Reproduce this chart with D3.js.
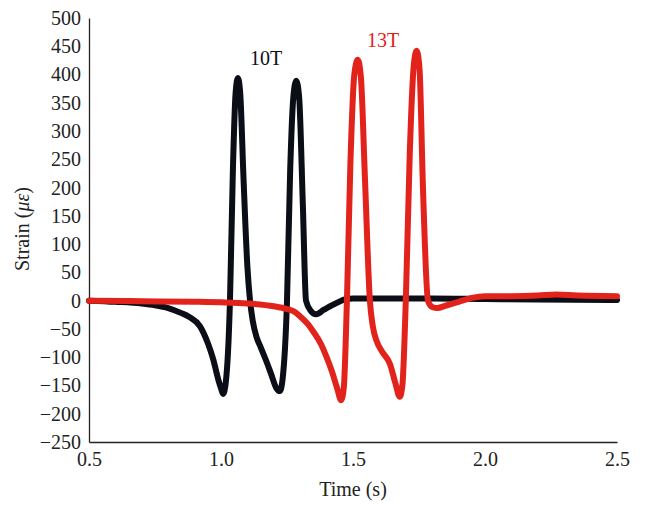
<!DOCTYPE html>
<html><head><meta charset="utf-8">
<script src="https://cdn.jsdelivr.net/npm/d3@7"></script>
<style>body{margin:0;background:#fff}svg text{font-family:"Liberation Serif","DejaVu Serif",serif}</style>
</head><body><svg id="c" width="645" height="505"></svg>
<script>
const xTicks = [0.5, 1.0, 1.5, 2.0, 2.5];
const yTicks = [500,450,400,350,300,250,200,150,100,50,0,-50,-100,-150,-200,-250];
const seriesNames = ["10T", "13T"];
const seriesColors = ["#0b0e16", "#e2231c"];
const t10 = [0.50,0.60,0.70,0.75,0.80,0.85,0.88,0.92,0.95,0.97,0.99,1.00,1.008,1.018,1.034,1.045,1.055,1.064,1.073,1.085,1.10,1.11,1.12,1.135,1.15,1.17,1.19,1.21,1.223,1.233,1.25,1.262,1.274,1.285,1.296,1.31,1.322,1.34,1.36,1.39,1.43,1.475,1.50,1.6,1.8,2.0,2.2,2.5];
const v10 = [0,-2,-5,-8,-13,-22,-29,-45,-75,-103,-140,-155,-165,-145,0,230,365,394,365,220,60,0,-35,-65,-82,-105,-130,-155,-160,-140,0,230,360,389,360,170,0,-18,-24,-16,-6,3,4,4,4,3,2,1];
const t13 = [0.50,0.70,0.90,1.00,1.10,1.20,1.25,1.28,1.30,1.33,1.35,1.38,1.40,1.42,1.44,1.455,1.465,1.477,1.49,1.505,1.518,1.53,1.545,1.564,1.575,1.59,1.61,1.64,1.66,1.677,1.687,1.70,1.715,1.73,1.741,1.752,1.765,1.784,1.80,1.82,1.85,1.90,1.95,2.0,2.1,2.2,2.27,2.35,2.5];
const v13 = [0,-1,-2,-3,-5,-10,-15,-20,-28,-42,-55,-78,-100,-125,-155,-176,-155,0,240,400,426,395,220,0,-45,-72,-90,-112,-145,-170,-150,0,260,415,442,410,200,0,-11,-13,-9,-2,5,8,8,9,11,9,8];

const svg = d3.select("#c");
const x = d3.scaleLinear().domain([0.5, 2.5]).range([89, 617]);
const y = d3.scaleLinear().domain([-250, 500]).range([442, 18]);

// axes
const ax = svg.append("g").attr("transform","translate(0,442)")
  .call(d3.axisBottom(x).tickValues(xTicks).tickFormat(d3.format(".1f")).tickSize(0).tickPadding(10));
const ay = svg.append("g").attr("transform","translate(89,0)")
  .call(d3.axisLeft(y).tickValues(yTicks).tickFormat(d => d < 0 ? "\u2212" + Math.abs(d) : d).tickSize(0).tickPadding(8));
[ax, ay].forEach(g => {
  g.select(".domain").attr("stroke","#222").attr("stroke-width",1.3);
  g.selectAll("text").attr("font-size",20).attr("fill","#222").attr("font-family","'Liberation Serif',serif");
});

const line = d3.line().x(d => x(d[0])).y(d => y(d[1])).curve(d3.curveMonotoneX);
const data = [d3.zip(t10, v10), d3.zip(t13, v13)];
data.forEach((d, i) => {
  svg.append("path").datum(d).attr("d", line).attr("fill","none")
    .attr("stroke", seriesColors[i]).attr("stroke-width",6)
    .attr("stroke-linejoin","round").attr("stroke-linecap","round");
});

svg.append("text").attr("x",266).attr("y",65).attr("text-anchor","middle").attr("font-size",20)
  .attr("fill",seriesColors[0]).text(seriesNames[0]);
svg.append("text").attr("x",383).attr("y",47).attr("text-anchor","middle").attr("font-size",20)
  .attr("fill",seriesColors[1]).text(seriesNames[1]);

svg.append("text").attr("x",353).attr("y",496).attr("text-anchor","middle").attr("font-size",20)
  .attr("fill","#222").text("Time (s)");
const yl = svg.append("text").attr("transform","translate(29,229) rotate(-90)").attr("text-anchor","middle")
  .attr("font-size",20).attr("fill","#222");
yl.append("tspan").text("Strain (");
yl.append("tspan").attr("font-style","italic").text("\u03bc\u03b5");
yl.append("tspan").text(")");
</script></body></html>
